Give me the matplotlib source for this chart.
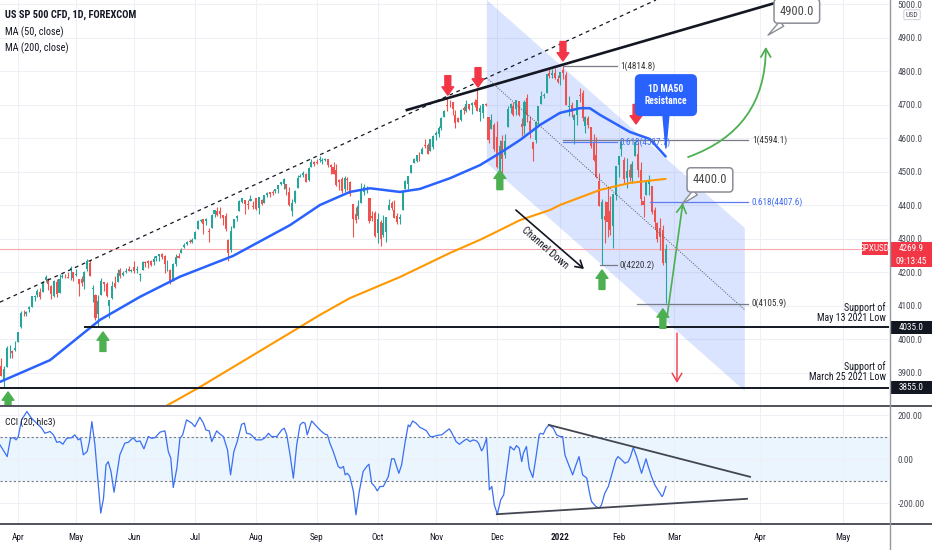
import numpy as np
import pandas as pd
import matplotlib
matplotlib.use('Agg')
import matplotlib.pyplot as plt
from matplotlib import font_manager
from matplotlib.patches import Polygon, Rectangle
from matplotlib.lines import Line2D

avail = {f.name for f in font_manager.fontManager.ttflist}
FAM = next((f for f in ['Liberation Sans Narrow', 'Roboto Condensed', 'Liberation Sans', 'Open Sans'] if f in avail), 'DejaVu Sans')
plt.rcParams['font.family'] = [FAM, 'DejaVu Sans']

# ---------------- data ----------------
opens = [
 3916,3938,3919,3880,3917,3969,3963,3968,
 3992,4035,4075,4075,4089,4096,4124,4130,4141,4140,4175,4179,4159,4128,4170,4138,4185,4188,4185,4206,4199,
 4192,4179,4178,4170,4210,4228,4150,4130,4074,4130,4170,4165,4099,4121,4168,4170,4205,4191,4201,4210,4204,
 4216,4207,4191,4207,4229,4233,4232,4229,4242,4248,4255,4248,4220,4205,4174,4224,4249,4256,4274,4284,4293,4290,
 4300,4327,4352,4357,4351,4321,4330,4373,4381,4381,4369,4367,4297,4265,4331,4361,4381,4409,4416,4402,4411,4396,
 4422,4392,4415,4407,4429,4438,4440,4442,4447,4464,4462,4462,4440,4383,4410,4451,4484,4490,4493,4474,4514,4529,
 4528,4534,4532,4535,4536,4518,4513,4506,4475,4479,4447,4478,4470,4402,4374,4367,4406,4439,4442,4420,4368,4375,
 4317,4348,4310,4319,4384,4407,4386,4368,4358,4386,4447,4464,4497,4524,4532,4547,4553,4578,4580,4562,4572,
 4610,4613,4630,4663,4700,4702,4707,4670,4659,4655,4689,4680,4701,4700,4708,4712,4678,4675,4701,4664,4628,4640,
 4602,4504,4590,4548,4632,4690,4697,4688,4710,4643,4636,4719,4652,4587,4594,4650,4703,4725,4733,4795,4788,4795,4775,
 4778,4804,4787,4693,4698,4655,4670,4729,4733,4637,4660,4632,4588,4548,4471,4357,4366,4409,4381,4337,4431,
 4519,4567,4535,4482,4505,4480,4547,4553,4506,4412,4430,4464,4456,4385,4345,4332,4324,4226]
highs = [
 3957,3949,3942,3919,3978,3981,3968,3994,
 4021,4084,4087,4084,4098,4129,4131,4149,4151,4173,4192,4181,4160,4175,4180,4194,4194,4193,4201,4219,4199,
 4209,4179,4187,4202,4238,4237,4162,4134,4131,4183,4171,4170,4117,4172,4188,4210,4213,4202,4213,4218,4210,
 4234,4217,4198,4234,4232,4237,4237,4249,4249,4255,4258,4252,4236,4208,4226,4255,4256,4271,4286,4293,4300,4302,
 4321,4355,4358,4359,4362,4330,4372,4386,4393,4393,4369,4376,4300,4337,4359,4369,4415,4422,4416,4416,4430,4412,
 4422,4424,4417,4429,4440,4439,4445,4449,4461,4468,4480,4463,4455,4418,4444,4490,4493,4502,4495,4513,4538,4532,
 4537,4545,4541,4540,4536,4521,4529,4521,4479,4485,4486,4485,4471,4402,4394,4416,4465,4463,4457,4420,4383,4382,
 4375,4355,4369,4365,4418,4413,4415,4375,4373,4439,4475,4487,4520,4540,4550,4559,4573,4598,4585,4597,4608,
 4620,4635,4664,4683,4718,4714,4709,4685,4664,4688,4697,4714,4701,4708,4717,4744,4699,4703,4705,4664,4673,4646,
 4652,4595,4608,4612,4695,4705,4708,4713,4711,4660,4712,4732,4666,4587,4651,4697,4740,4733,4791,4807,4805,4808,4787,
 4797,4815,4798,4726,4708,4673,4714,4749,4744,4666,4666,4632,4611,4603,4495,4418,4411,4453,4428,4432,4516,
 4546,4594,4542,4540,4522,4531,4590,4588,4527,4426,4472,4490,4456,4395,4350,4362,4339,4285]
lows = [
 3914,3901,3889,3855,3917,3943,3944,3964,
 3992,4034,4069,4068,4082,4096,4114,4124,4120,4139,4171,4146,4118,4126,4124,4138,4183,4181,4181,4177,4174,
 4188,4128,4158,4148,4202,4188,4111,4056,4035,4130,4143,4125,4062,4118,4151,4170,4182,4188,4197,4203,4200,
 4197,4198,4173,4207,4215,4211,4219,4220,4233,4234,4240,4196,4202,4164,4173,4218,4241,4256,4271,4280,4287,4288,
 4300,4327,4348,4314,4340,4289,4330,4365,4368,4362,4340,4323,4233,4259,4331,4351,4381,4406,4372,4387,4411,4389,
 4384,4374,4400,4405,4425,4424,4430,4437,4436,4460,4447,4430,4396,4367,4406,4451,4483,4485,4468,4472,4514,4515,
 4522,4528,4522,4530,4513,4494,4493,4458,4445,4435,4438,4444,4427,4305,4347,4359,4406,4430,4437,4346,4351,4306,
 4288,4278,4304,4290,4384,4386,4360,4342,4342,4386,4447,4448,4496,4524,4528,4532,4551,4569,4551,4562,4567,
 4595,4604,4623,4662,4681,4694,4670,4631,4648,4651,4672,4679,4684,4672,4694,4680,4652,4659,4695,4585,4626,4560,
 4510,4504,4495,4541,4632,4674,4666,4670,4666,4606,4611,4649,4600,4531,4584,4643,4703,4720,4733,4780,4778,4775,4765,
 4759,4775,4700,4667,4663,4582,4638,4708,4651,4614,4630,4569,4530,4480,4396,4220,4288,4305,4309,4273,4415,
 4483,4545,4465,4451,4471,4465,4547,4484,4401,4364,4430,4430,4373,4328,4290,4267,4221,4106]
closes = [
 3941,3911,3889,3910,3974,3971,3959,3973,
 4020,4078,4074,4080,4097,4129,4128,4142,4124,4170,4185,4163,4135,4173,4135,4180,4188,4187,4183,4211,4181,
 4192,4165,4168,4201,4233,4189,4152,4063,4113,4173,4163,4127,4116,4159,4156,4197,4188,4196,4201,4204,4206,
 4202,4208,4193,4230,4226,4227,4220,4239,4247,4255,4246,4224,4222,4166,4224,4246,4242,4266,4281,4291,4291,4297,
 4320,4352,4355,4344,4358,4320,4369,4385,4369,4374,4360,4327,4258,4323,4359,4368,4412,4422,4402,4401,4419,4395,
 4387,4423,4402,4429,4437,4432,4436,4447,4460,4468,4479,4448,4400,4405,4442,4480,4486,4496,4470,4509,4529,4523,
 4524,4537,4535,4536,4520,4514,4493,4459,4469,4443,4481,4474,4433,4358,4354,4396,4449,4455,4443,4353,4360,4308,
 4357,4300,4346,4363,4399,4391,4361,4350,4364,4438,4471,4486,4520,4537,4549,4545,4567,4575,4551,4597,4605,
 4614,4631,4660,4680,4697,4701,4686,4646,4649,4683,4683,4701,4688,4704,4698,4682,4690,4701,4698,4595,4655,4567,
 4513,4577,4538,4592,4686,4701,4668,4712,4669,4634,4709,4668,4620,4568,4649,4697,4725,4728,4791,4786,4793,4778,4766,
 4797,4794,4700,4696,4677,4670,4713,4726,4659,4663,4640,4577,4533,4483,4398,4410,4356,4350,4326,4432,4516,
 4546,4589,4478,4501,4484,4522,4587,4504,4419,4401,4472,4475,4380,4349,4300,4305,4226,4270]

# moving averages (bar index, price)
ma50_bar = [1.5, 19.6, 37.6, 52.1, 66.5, 85.7, 106.3, 117.1, 127.9, 135.2, 146.0, 153.2, 164.1,
            174.9, 182.1, 189.4, 196.6, 203.8, 211.0, 214.6, 218.3, 229.1, 236.3, 242.0]
ma50_val = [3872, 3937, 4057, 4126, 4186, 4248, 4340, 4400, 4439, 4450, 4439, 4448, 4480,
            4519, 4555, 4594, 4639, 4675, 4689, 4689, 4669, 4618, 4597, 4545]
ma200_bar = [59.3, 65.4, 73.8, 109.9, 117.1, 127.9, 146.0, 164.1, 174.9, 182.1, 189.4, 200.2,
             203.8, 218.3, 229.1, 242.0]
ma200_val = [3790, 3818, 3857, 4036, 4072, 4122, 4185, 4257, 4296, 4325, 4355, 4385,
             4400, 4445, 4466, 4478]

# CCI(20, hlc3) (bar index, value)
cci_bar = [1.5,4.1,5.3,6.4,7.3,8.1,9.3,11.2,12.9,14.7,
 16.6,17.7,19.6,20.8,22.0,23.1,24.2,25.6,27.4,28.5,
 29.8,30.6,31.6,33.0,33.8,34.7,35.8,36.6,37.9,38.9,
 39.8,40.6,41.6,42.7,43.7,44.8,46.6,47.9,49.6,50.8,
 52.1,53.5,55.1,56.3,57.5,59.3,61.1,62.3,63.2,64.1,
 65.4,66.5,67.5,68.9,70.8,71.9,73.7,75.0,75.9,77.1,
 78.0,79.8,81.0,82.2,83.7,84.8,86.0,87.2,88.8,89.8,
 90.6,92.0,
 94.0,96.0,97.3,98.5,99.6,101.5,103.3,104.2,105.1,106.3,
 107.5,108.7,109.9,110.9,111.7,112.5,114.1,115.4,116.5,117.7,
 118.9,119.8,120.7,121.9,123.7,124.6,125.6,126.2,127.0,127.9,
 129.2,130.1,131.3,132.7,134.0,134.8,135.8,136.9,137.8,138.8,
 140.0,141.2,141.8,143.0,143.9,144.8,145.6,146.6,147.9,149.0,
 149.6,150.6,151.8,153.3,154.4,155.6,156.9,158.1,159.3,161.1,
 162.9,163.8,164.6,166.3,167.5,169.0,170.1,171.3,172.5,173.7,
 174.4,175.5,176.1,177.3,177.9,178.3,179.2,180.1,181.2,182.4,
 183.5,184.6,185.8,
 187.2,188.1,189.1,190.0,190.6,191.7,192.7,194.0,195.1,196.3,
 196.8,197.8,198.8,199.9,201.4,202.6,203.8,204.8,205.6,206.9,
 208.4,209.6,210.7,212.0,213.5,214.4,215.2,216.8,218.0,218.8,
 220.0,221.3,222.8,224.0,224.8,226.1,227.3,228.5,229.3,230.3,
 231.5,233.3,234.9,235.7,236.9,238.1,239.4,240.7,241.1,242.1]
cci_val = [65,12,95,98,88,103,179,217,186,164,
 141,118,126,111,77,80,68,95,98,111,
 88,95,20,35,80,171,65,-56,-245,-177,
 -26,-11,-56,-150,-71,20,73,77,98,80,
 83,47,103,95,98,123,129,35,5,-129,
 -41,95,111,179,164,148,191,164,133,129,
 80,129,114,103,42,-71,35,80,159,164,
 118,114,
 88,88,98,118,103,103,133,141,111,20,
 -86,65,156,168,164,111,174,156,141,126,
 114,111,73,35,-33,-41,-33,-71,-64,-79,
 -147,-253,-147,-56,-33,-23,-109,-124,-144,-124,
 -124,-94,-79,2,2,-33,-64,-26,80,156,
 148,174,164,144,138,129,103,103,108,111,
 129,138,123,80,68,83,92,80,88,83,
 73,38,50,95,-33,-139,-124,-208,-250,-185,
 -162,-56,58,
 42,62,50,-11,27,58,-41,-83,5,111,
 118,114,141,156,141,111,103,103,20,-23,
 -71,-26,12,-71,-86,-147,-192,-215,-223,-208,
 -155,-124,-56,-3,12,-3,-18,-11,12,53,
 12,-64,2,-33,-79,-117,-144,-170,-162,-124]

price_ticks = [3900, 4000, 4100, 4200, 4300, 4400, 4500, 4600, 4700, 4800, 4900, 5000]
cci_ticks = [-200, 0, 200]
last_price = 4269.9
support_levels = [4035.0, 3855.0]
fib1_levels = [4814.8, 4587.7, 4220.2]
fib1_labels = ['1(4814.8)', '0.618(4587.7)', '0(4220.2)']
fib2_levels = [4594.1, 4407.6, 4105.9]
fib2_labels = ['1(4594.1)', '0.618(4407.6)', '0(4105.9)']
target_labels = ['4900.0', '4400.0']
green_tips = [(4.4, 3842), (38.7, 4021), (182.1, 4504), (219.0, 4206), (241.0, 4090)]
red_tips = [(163.3, 4728), (174.2, 4752), (204.9, 4830), (231.3, 4642)]

# ---------------- dates / positions ----------------
dates = pd.bdate_range('2021-03-22', '2022-02-24')
dates = dates[dates != pd.Timestamp('2021-04-02')]
n = min(len(dates), len(closes))
dates = dates[:n]
o = np.array(opens[:n], float); h = np.array(highs[:n], float)
l = np.array(lows[:n], float); c = np.array(closes[:n], float)
xb = np.arange(n)

tick_pos, tick_lab = [], []
s = pd.Series(np.arange(n), index=dates)
for per, grp in s.groupby(dates.to_period('M')):
    if per.month == 3 and per.year == 2021:
        continue
    tick_pos.append(int(grp.iloc[0]))
    tick_lab.append('2022' if (per.month == 1) else per.strftime('%b'))
fut = pd.bdate_range(dates[-1] + pd.Timedelta(days=1), '2022-03-01')
tick_pos.append(n - 1 + len(fut)); tick_lab.append('Mar')
tick_pos += [276, 306]; tick_lab += ['Apr', 'May']

UP, DN = '#26a69a', '#ef5350'
GREEN, RED, BLUE, ORANGE = '#4caf50', '#f23645', '#2962ff', '#ff9800'
TXT = '#131722'

W, H = 932, 550
fig = plt.figure(figsize=(W / 100, H / 100), dpi=100)
ax = fig.add_axes([0, 1 - 405 / H, 889 / W, 405 / H])
cx = fig.add_axes([0, 1 - 523 / H, 889 / W, 117 / H], sharex=ax)

for a in (ax, cx):
    for sp in a.spines.values():
        sp.set_visible(False)
    a.set_axisbelow(True)
    a.grid(True, color='#eef0f5', lw=0.8)
    a.yaxis.tick_right()

ax.set_xlim(1.5, 322.7)
ax.set_ylim(3803, 5012)
ax.set_yticks(price_ticks)
ax.set_yticklabels([f'{v:.1f}' for v in price_ticks])
ax.tick_params(axis='y', length=0, pad=6, labelsize=6.6, labelcolor='#4a4d57')
ax.tick_params(axis='x', length=0, labelbottom=False)

# channel
chan = Polygon([(177.4, 5012), (270.6, 4331), (270.6, 3845), (177.4, 4525)], closed=True,
               fc=BLUE, alpha=0.17, ec='none', zorder=1)
ax.add_patch(chan)

# current price line
ax.axhline(last_price, color='#f7a6ad', lw=0.8, zorder=2)

# candles
col = np.where(c >= o, UP, DN)
ax.vlines(xb, l, h, colors=col, lw=0.8, zorder=3)
ax.bar(xb, np.maximum(np.abs(c - o), 1.0), bottom=np.minimum(o, c), width=0.74,
       color=col, lw=0, zorder=3.1)

# moving averages
ax.plot(ma50_bar, ma50_val, color=BLUE, lw=1.8, zorder=4, solid_capstyle='round')
ax.plot(ma200_bar, ma200_val, color=ORANGE, lw=1.5, zorder=4, solid_capstyle='round')

# trend lines
ax.plot([1.5, 238.5], [4110, 5012], color=TXT, lw=0.9, ls=(0, (3, 3)), zorder=5)
ax.plot([148.5, 281.5], [4683.6, 5003], color=TXT, lw=1.9, zorder=5)
ax.plot([177.4, 270.6], [4779, 4087], color='#555555', lw=0.7, ls=(0, (1, 1.5)), zorder=5)
ax.plot([32.2, 322.7], [support_levels[0]] * 2, color=TXT, lw=1.4, zorder=5)
ax.plot([1.5, 322.7], [support_levels[1]] * 2, color=TXT, lw=1.4, zorder=5)

# fib levels
fcol = ['#787b86', '#5b7cf5', '#787b86']
tcol = ['#333333', '#3d6cf0', '#333333']
f1_start = [204.9, 204.9, 218.3]
for v, lab, st, lc, tc in zip(fib1_levels, fib1_labels, f1_start, fcol, tcol):
    ax.plot([st, 224.4], [v, v], color=lc, lw=0.9, zorder=5)
    ax.text(225.5, v, lab, color=tc, fontsize=6.6, va='center', ha='left', zorder=6)
f2_start = [204.9, 236.3, 231.6]
for v, lab, st, lc, tc in zip(fib2_levels, fib2_labels, f2_start, fcol, tcol):
    ax.plot([st, 271.7], [v, v], color=lc, lw=0.9, zorder=5)
    ax.text(273.2, v, lab, color=tc, fontsize=6.6, va='center', ha='left', zorder=6)

# big arrows
for bx_, py in green_tips:
    ax.annotate('', xy=(bx_, py), xytext=(0, -14), textcoords='offset points',
                arrowprops=dict(arrowstyle='simple,head_length=0.7,head_width=1.0,tail_width=0.5',
                                fc=GREEN, ec=GREEN, mutation_scale=8.5, shrinkA=0, shrinkB=0),
                zorder=7, annotation_clip=False)
for bx_, py in red_tips:
    ax.annotate('', xy=(bx_, py), xytext=(0, 14), textcoords='offset points',
                arrowprops=dict(arrowstyle='simple,head_length=0.7,head_width=1.0,tail_width=0.5',
                                fc=RED, ec=RED, mutation_scale=8.5, shrinkA=0, shrinkB=0),
                zorder=7)

# projection arrows
ax.annotate('', xy=(278.2, 4872), xytext=(250.1, 4543),
            arrowprops=dict(arrowstyle='->,head_length=0.6,head_width=0.35', color=GREEN, lw=1.3,
                            connectionstyle='arc3,rad=0.35', shrinkA=0, shrinkB=0), zorder=7)
ax.annotate('', xy=(248.2, 4406), xytext=(242.5, 4066),
            arrowprops=dict(arrowstyle='->,head_length=0.6,head_width=0.35', color=GREEN, lw=1.2,
                            shrinkA=0, shrinkB=0), zorder=7)
ax.annotate('', xy=(246.1, 3869), xytext=(246.1, 4018),
            arrowprops=dict(arrowstyle='->,head_length=0.6,head_width=0.35', color=RED, lw=1.0,
                            shrinkA=0, shrinkB=0), zorder=7)
ax.annotate('', xy=(212.5, 4209), xytext=(187.9, 4385),
            arrowprops=dict(arrowstyle='->,head_length=0.5,head_width=0.3', color=TXT, lw=1.2,
                            shrinkA=0, shrinkB=0), zorder=7)
ax.text(198.4, 4272, 'Channel Down', rotation=-41, fontsize=7.5, color=TXT,
        ha='center', va='center', rotation_mode='anchor', zorder=7)

# callout boxes
ax.annotate(target_labels[0], xy=(279.0, 4907), xytext=(289.4, 4979), fontsize=9, color='#4a4a4a',
            ha='center', va='center', zorder=8, annotation_clip=False,
            bbox=dict(boxstyle='round,pad=0.45,rounding_size=0.3', fc='white', ec='#8a8d96', lw=1.1),
            arrowprops=dict(arrowstyle='wedge,tail_width=0.5', fc='white', ec='#8a8d96', lw=1.0,
                            shrinkA=0, shrinkB=0))
ax.annotate(target_labels[1], xy=(247.9, 4403), xytext=(258.0, 4475), fontsize=9, color='#4a4a4a',
            ha='center', va='center', zorder=8,
            bbox=dict(boxstyle='round,pad=0.45,rounding_size=0.3', fc='white', ec='#8a8d96', lw=1.1),
            arrowprops=dict(arrowstyle='wedge,tail_width=0.5', fc='white', ec='#8a8d96', lw=1.0,
                            shrinkA=0, shrinkB=0))
ax.annotate('1D MA50\nResistance', xy=(242.1, 4570), xytext=(242.1, 4728), fontsize=6.9,
            color='white', fontweight='bold', ha='center', va='center', zorder=8, linespacing=1.3,
            bbox=dict(boxstyle='round,pad=0.95,rounding_size=0.5', fc=BLUE, ec=BLUE),
            arrowprops=dict(arrowstyle='wedge,tail_width=0.6', fc=BLUE, ec=BLUE, shrinkA=0, shrinkB=0))

# support texts
ax.text(321.6, 4079, 'Support of\nMay 13 2021 Low', ha='right', va='center', fontsize=7.2,
        color=TXT, linespacing=1.05, zorder=8)
ax.text(321.6, 3903, 'Support of\nMarch 25 2021 Low', ha='right', va='center', fontsize=7.2,
        color=TXT, linespacing=1.05, zorder=8)

# legend texts
ax.text(5 / 889, 1 - 15 / 405, 'US SP 500 CFD, 1D, FOREXCOM', transform=ax.transAxes,
        fontsize=7.5, fontweight='bold', color=TXT, va='center', ha='left')
ax.text(5 / 889, 1 - 32 / 405, 'MA (50, close)', transform=ax.transAxes,
        fontsize=7.4, color=TXT, va='center', ha='left')
ax.text(5 / 889, 1 - 48 / 405, 'MA (200, close)', transform=ax.transAxes,
        fontsize=7.4, color=TXT, va='center', ha='left')

# price-axis tags
trans = ax.get_yaxis_transform()
def tag(x0, x1, yc, hgt, fc, text, zorder=10):
    ax.add_patch(Rectangle((x0 / 889, yc - hgt / 2), (x1 - x0) / 889, hgt, transform=trans,
                           fc=fc, ec='none', clip_on=False, zorder=zorder))
    ax.text((x0 + x1) / 2 / 889, yc, text, transform=trans, ha='center', va='center',
            color='white', fontsize=6.6, clip_on=False, zorder=zorder + 1)
tag(890, 932, last_price, 38.8, RED, f'{last_price:.1f}')
tag(890, 932, last_price - 37.3, 35.8, RED, '09:13:45')
tag(862, 888, last_price, 38.8, RED, 'SPXUSD')
for lv in support_levels:
    tag(890, 932, lv, 38.8, TXT, f'{lv:.1f}')
ax.text(912 / 889, 4968, 'USD', transform=trans, ha='center', va='center', fontsize=5.5,
        color='#4a4d57', clip_on=False, zorder=10,
        bbox=dict(boxstyle='round,pad=0.25,rounding_size=0.2', fc='white', ec='#d1d4dc', lw=0.8))

# ---------------- CCI panel ----------------
cx.set_ylim(-290, 242)
cx.axhspan(-100, 100, color='#2196f3', alpha=0.09, lw=0, zorder=0.5)
for lv in (100, -100):
    cx.axhline(lv, color='#787b86', lw=0.8, ls=(0, (2, 2)), zorder=1)
cx.plot(cci_bar, cci_val, color='#3a6ff3', lw=0.9, zorder=3)
cx.plot([199.8, 272.5], [156, -80], color='#434651', lw=1.3, zorder=4)
cx.plot([181.0, 271.4], [-250, -180], color='#434651', lw=1.3, zorder=4)
cx.set_yticks(cci_ticks)
cx.set_yticklabels([f'{v:.2f}' for v in cci_ticks])
cx.tick_params(axis='y', length=0, pad=6, labelsize=6.6, labelcolor='#4a4d57')
cx.set_xticks(tick_pos)
cx.set_xticklabels(tick_lab)
cx.tick_params(axis='x', length=0, pad=7, labelsize=6.6, labelcolor=TXT)
for t, lab in zip(cx.get_xticklabels(), tick_lab):
    if lab == '2022':
        t.set_fontweight('bold')
cx.text(5 / 889, 1 - 16 / 117, 'CCI (20, hlc3)', transform=cx.transAxes, fontsize=6.8,
        color=TXT, va='center', ha='left')

# separators
fig.add_artist(Line2D([0, 1], [1 - 405.5 / H] * 2, color='#50535e', lw=1.4))
fig.add_artist(Line2D([0, 1], [1 - 523.5 / H] * 2, color='#50535e', lw=1.4))
fig.add_artist(Line2D([890 / W] * 2, [0, 1], color='#9598a1', lw=1.0))

fig.savefig('out.png', dpi=100)
